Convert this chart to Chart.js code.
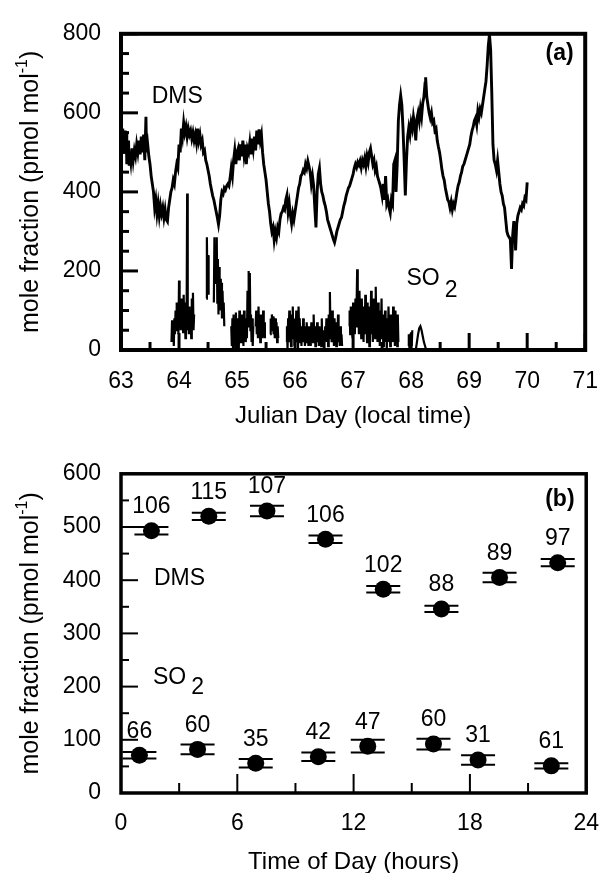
<!DOCTYPE html>
<html>
<head>
<meta charset="utf-8">
<script src="https://cdn.jsdelivr.net/npm/chart.js@4.4.0/dist/chart.umd.min.js"></script>
<style>
html, body { margin: 0; padding: 0; background: #fff; overflow: hidden; }
#wrapA { position: absolute; left: 0; top: 0; width: 616px; height: 440px; }
#wrapB { position: absolute; left: 0; top: 440px; width: 616px; height: 440px; }
</style>
</head>
<body>
<div id="wrapA"><canvas id="chartA" width="616" height="440"></canvas></div>
<div id="wrapB"><canvas id="chartB" width="616" height="440"></canvas></div>
<script>
const FONT = '"Liberation Sans", Arial, Helvetica, sans-serif';

// panel (a): time series, [julian day, pmol/mol]
const dmsSeries = [
  [63.00,480],[63.01,540],[63.02,500],[63.03,560],[63.04,520],[63.05,545],[63.06,500],[63.07,555],[63.08,530],[63.09,550],
  [63.10,470],[63.11,520],[63.12,480],[63.13,530],[63.14,470],[63.15,500],[63.17,475],[63.19,510],[63.21,480],[63.23,505],
  [63.25,490],[63.27,520],[63.29,500],[63.31,530],[63.33,495],[63.35,540],[63.37,500],[63.39,545],[63.41,480],[63.43,590],
  [63.44,500],[63.46,520],[63.48,490],[63.50,470],[63.52,440],[63.54,420],[63.56,400],[63.58,360],[63.60,380],[63.62,345],
  [63.64,370],[63.66,340],[63.68,365],[63.70,345],[63.72,360],[63.74,335],[63.76,355],[63.78,330],[63.80,325],[63.82,360],
  [63.84,380],[63.86,400],[63.88,410],[63.90,430],[63.92,420],[63.94,450],[63.96,470],[63.98,460],[64.00,520],[64.02,500],
  [64.04,560],[64.06,540],[64.08,575],[64.10,550],[64.12,565],[64.14,540],[64.16,560],[64.18,545],[64.20,555],[64.22,535],
  [64.24,550],[64.26,530],[64.28,545],[64.30,525],[64.32,560],[64.34,530],[64.36,545],[64.38,520],[64.40,530],[64.42,500],
  [64.44,505],[64.46,480],[64.48,470],[64.50,455],[64.52,440],[64.54,420],[64.56,405],[64.58,390],[64.60,380],[64.62,365],
  [64.64,350],[64.66,335],[64.68,318],[64.70,340],[64.72,380],[64.74,400],[64.76,395],[64.78,410],[64.80,405],[64.82,415],
  [64.84,420],[64.86,415],[64.88,435],[64.90,460],[64.92,440],[64.94,480],[64.96,505],[64.98,470],[65.00,500],[65.02,510],
  [65.04,480],[65.06,520],[65.08,490],[65.10,530],[65.12,495],[65.14,520],[65.16,470],[65.18,510],[65.20,500],[65.22,525],
  [65.24,495],[65.26,535],[65.28,510],[65.30,540],[65.32,505],[65.34,555],[65.36,520],[65.38,558],[65.40,530],[65.42,545],
  [65.44,500],[65.46,470],[65.48,450],[65.50,430],[65.52,400],[65.54,370],[65.56,350],[65.58,320],[65.60,300],[65.62,310],
  [65.64,278],[65.66,300],[65.68,285],[65.70,310],[65.72,300],[65.74,330],[65.76,345],[65.78,350],[65.80,360],[65.82,355],
  [65.84,380],[65.86,392],[65.88,350],[65.90,370],[65.92,340],[65.94,320],[65.96,345],[65.98,330],[66.00,350],[66.02,370],
  [66.04,390],[66.06,410],[66.08,420],[66.10,440],[66.12,445],[66.14,455],[66.16,450],[66.18,470],[66.20,460],[66.22,478],
  [66.24,465],[66.26,450],[66.28,420],[66.30,440],[66.32,416],[66.34,360],[66.36,310],[66.38,400],[66.40,445],[66.42,460],
  [66.44,420],[66.46,400],[66.48,390],[66.50,375],[66.52,365],[66.54,350],[66.56,330],[66.58,320],[66.60,310],[66.62,300],
  [66.64,290],[66.66,280],[66.68,272],[66.70,285],[66.72,300],[66.74,310],[66.76,320],[66.78,330],[66.80,335],[66.82,350],
  [66.84,365],[66.86,375],[66.88,390],[66.90,400],[66.92,410],[66.94,415],[66.96,425],[66.98,435],[67.00,445],[67.02,460],
  [67.04,470],[67.06,462],[67.08,475],[67.10,468],[67.12,478],[67.14,462],[67.16,480],[67.18,470],[67.20,485],[67.22,465],
  [67.24,490],[67.26,475],[67.28,500],[67.30,510],[67.32,490],[67.34,470],[67.36,480],[67.38,455],[67.40,465],[67.42,440],
  [67.44,430],[67.46,420],[67.48,408],[67.50,390],[67.52,420],[67.54,380],[67.56,440],[67.58,370],[67.60,380],[67.62,360],
  [67.64,347],[67.66,380],[67.68,370],[67.70,470],[67.72,480],[67.74,400],[67.76,470],[67.78,580],[67.80,620],[67.82,644],
  [67.84,620],[67.86,560],[67.88,480],[67.90,391],[67.92,480],[67.94,540],[67.96,563],[67.98,545],[68.00,575],[68.02,560],
  [68.04,590],[68.06,570],[68.08,530],[68.10,585],[68.12,600],[68.14,580],[68.16,610],[68.18,590],[68.20,625],[68.22,640],
  [68.24,675],[68.25,690],[68.27,640],[68.29,620],[68.31,600],[68.33,587],[68.35,600],[68.37,575],[68.39,580],[68.41,555],
  [68.43,560],[68.45,530],[68.47,514],[68.49,500],[68.51,480],[68.53,457],[68.55,440],[68.57,430],[68.59,410],[68.61,395],
  [68.63,380],[68.65,375],[68.67,360],[68.69,375],[68.71,355],[68.73,370],[68.75,362],[68.77,380],[68.79,400],[68.81,416],
  [68.83,425],[68.85,440],[68.87,450],[68.89,465],[68.91,470],[68.93,480],[68.95,490],[68.97,500],[68.99,510],[69.01,520],
  [69.03,540],[69.05,555],[69.07,565],[69.09,580],[69.11,587],[69.13,570],[69.15,605],[69.17,590],[69.19,610],[69.21,600],
  [69.23,620],[69.25,640],[69.27,660],[69.29,680],[69.31,720],[69.33,770],[69.35,798],[69.37,760],[69.39,650],[69.41,520],
  [69.43,480],[69.45,470],[69.47,455],[69.49,480],[69.51,450],[69.53,420],[69.55,400],[69.57,390],[69.59,370],[69.61,360],
  [69.63,330],[69.65,300],[69.67,290],[69.69,285],[69.71,280],[69.73,205],[69.75,290],[69.77,326],[69.79,300],[69.80,252],
  [69.82,320],[69.84,340],[69.86,350],[69.88,360],[69.90,355],[69.92,370],[69.94,365],[69.96,385],[69.98,380],[70.00,424]
];

const so2Series = [
  [63.87,20],[63.88,75],[63.89,30],[63.90,60],[63.91,10],[63.92,80],[63.93,40],[63.94,100],[63.95,50],[63.96,120],
  [63.97,60],[63.98,90],[63.99,40],[64.00,176],[64.01,70],[64.02,110],[64.03,50],[64.04,130],[64.05,60],[64.06,95],
  [64.07,45],[64.08,140],[64.09,70],[64.10,100],[64.11,30],[64.12,120],[64.13,60],[64.14,396],[64.15,50],[64.16,90],
  [64.17,40],[64.18,110],[64.19,60],[64.20,100],[64.21,30],[64.22,130],[64.23,70],[64.24,145],[64.25,50],[64.26,90],
  [64.27,null],
  [64.47,130],[64.48,285],[64.49,150],[64.50,240],[64.51,140],[64.53,null],
  [64.60,120],[64.61,285],[64.62,170],[64.63,260],[64.64,200],[64.65,285],[64.66,120],[64.67,230],[64.68,90],[64.69,210],
  [64.70,140],[64.71,180],[64.72,100],[64.73,170],[64.74,80],[64.75,150],[64.76,90],[64.77,120],[64.78,60],[64.79,null],
  [64.90,60],[64.91,10],[64.92,80],[64.93,0],[64.94,90],[64.95,30],[64.96,70],[64.97,5],[64.98,95],[64.99,40],
  [65.00,80],[65.01,10],[65.02,60],[65.03,0],[65.04,100],[65.05,30],[65.06,70],[65.07,20],[65.08,90],[65.09,40],
  [65.10,60],[65.11,10],[65.12,100],[65.13,50],[65.14,80],[65.15,20],[65.16,70],[65.17,30],[65.18,150],[65.19,60],
  [65.20,200],[65.21,70],[65.22,195],[65.23,50],[65.24,90],[65.25,20],[65.26,80],[65.27,10],[65.28,60],[65.29,null],
  [65.32,60],[65.33,100],[65.34,40],[65.35,80],[65.36,30],[65.37,110],[65.38,50],[65.39,70],[65.40,20],[65.41,90],
  [65.42,40],[65.43,60],[65.44,30],[65.45,100],[65.46,40],[65.47,70],[65.48,30],[65.49,null],
  [65.57,40],[65.58,80],[65.59,50],[65.60,90],[65.61,60],[65.62,85],[65.63,40],[65.64,75],[65.65,30],[65.66,80],
  [65.67,50],[65.68,70],[65.69,20],[65.70,60],[65.71,30],[65.72,null],
  [65.85,20],[65.86,60],[65.87,0],[65.88,80],[65.89,30],[65.90,100],[65.91,20],[65.92,70],[65.93,10],[65.94,90],
  [65.95,40],[65.96,110],[65.97,30],[65.98,80],[65.99,10],[66.00,60],[66.01,20],[66.02,100],[66.03,40],[66.04,70],
  [66.05,0],[66.06,110],[66.07,50],[66.08,80],[66.09,20],[66.10,60],[66.11,10],[66.12,50],[66.13,30],[66.14,80],
  [66.15,20],[66.16,60],[66.17,10],[66.18,40],[66.19,20],[66.20,70],[66.21,30],[66.22,50],[66.23,10],[66.24,60],
  [66.25,20],[66.26,40],[66.27,10],[66.28,70],[66.29,30],[66.30,50],[66.31,20],[66.32,90],[66.33,30],[66.34,60],
  [66.35,10],[66.36,50],[66.37,20],[66.38,70],[66.39,30],[66.40,55],[66.41,10],[66.42,60],[66.43,25],[66.44,45],
  [66.45,10],[66.46,80],[66.47,20],[66.48,50],[66.49,10],[66.50,40],[66.51,20],[66.52,60],[66.53,30],[66.54,80],
  [66.55,20],[66.56,60],[66.57,10],[66.58,90],[66.59,30],[66.60,147],[66.61,40],[66.62,70],[66.63,20],[66.64,100],
  [66.65,30],[66.66,60],[66.67,10],[66.68,80],[66.69,30],[66.70,50],[66.71,10],[66.72,70],[66.73,20],[66.74,90],
  [66.75,30],[66.76,50],[66.77,10],[66.78,60],[66.79,20],[66.80,40],[66.81,10],[66.82,null],
  [66.93,60],[66.94,100],[66.95,40],[66.96,110],[66.97,60],[66.98,90],[66.99,30],[67.00,120],[67.01,50],[67.02,100],
  [67.03,40],[67.04,130],[67.05,60],[67.06,110],[67.07,204],[67.08,70],[67.09,120],[67.10,40],[67.11,150],[67.12,60],
  [67.13,100],[67.14,30],[67.15,130],[67.16,50],[67.17,90],[67.18,20],[67.19,110],[67.20,40],[67.21,140],[67.22,60],
  [67.23,100],[67.24,20],[67.25,120],[67.26,50],[67.27,80],[67.28,10],[67.29,110],[67.30,40],[67.31,150],[67.32,60],
  [67.33,90],[67.34,20],[67.35,130],[67.36,50],[67.37,100],[67.38,30],[67.39,160],[67.40,60],[67.41,90],[67.42,20],
  [67.43,120],[67.44,50],[67.45,80],[67.46,10],[67.47,100],[67.48,40],[67.49,130],[67.50,30],[67.51,90],[67.52,10],
  [67.53,70],[67.54,30],[67.55,100],[67.56,20],[67.57,80],[67.58,0],[67.59,60],[67.60,20],[67.61,110],[67.62,30],
  [67.63,70],[67.64,10],[67.65,90],[67.66,30],[67.67,60],[67.68,20],[67.69,110],[67.70,40],[67.71,80],[67.72,10],
  [67.73,100],[67.74,30],[67.75,60],[67.76,10],[67.77,90],[67.78,20],[67.79,null],
  [67.95,10],[67.96,40],[67.97,5],[67.98,30],[67.99,0],[68.00,45],[68.01,10],[68.02,50],[68.03,null],
  [68.08,0],[68.10,20],[68.12,40],[68.14,55],[68.16,60],[68.18,50],[68.20,35],[68.22,20],[68.24,10],[68.26,0]
];

// panel (b): diurnal means, error, number of samples
const hourDms = [1.57, 4.53, 7.53, 10.55, 13.53, 16.53, 19.53, 22.53];
const dmsMean = [493, 520, 530, 477, 383, 346, 405, 433];
const dmsErr  = [7, 7, 10, 7, 6, 6, 9, 7];
const dmsN    = [106, 115, 107, 106, 102, 88, 89, 97];

const hourSo2 = [0.95, 3.95, 6.95, 10.18, 12.73, 16.12, 18.42, 22.2];
const so2Mean = [71, 82, 56, 68, 88, 92, 62, 51];
const so2Err  = [6, 9, 8, 8, 12, 10, 9, 5];
const so2N    = [66, 60, 35, 42, 47, 60, 31, 61];

function toXY(series) {
  return series.map(p => ({ x: p[0], y: p[1] }));
}

// frame + inward ticks (left and bottom)
function frameTicks(o) {
  return {
    id: 'frameTicks',
    afterDraw(chart) {
      const { ctx, chartArea: a } = chart;
      const x = chart.scales.x, y = chart.scales.y;
      ctx.save();
      ctx.strokeStyle = '#000';
      ctx.lineWidth = o.tickWidth;
      for (let v = x.min; v <= x.max + 1e-9; v += o.xStep) {
        const r = v / o.xMajor;
        const len = Math.abs(r - Math.round(r)) < 1e-6 ? o.xMajorLen : o.xMinorLen;
        const px = x.getPixelForValue(v);
        ctx.beginPath(); ctx.moveTo(px, a.bottom); ctx.lineTo(px, a.bottom - len); ctx.stroke();
      }
      for (let v = y.min; v <= y.max + 1e-9; v += o.yStep) {
        const r = v / o.yMajor;
        const len = Math.abs(r - Math.round(r)) < 1e-6 ? o.yMajorLen : o.yMinorLen;
        const py = y.getPixelForValue(v);
        ctx.beginPath(); ctx.moveTo(a.left, py); ctx.lineTo(a.left + len, py); ctx.stroke();
      }
      ctx.lineWidth = o.frameWidth;
      ctx.strokeRect(a.left, a.top, a.right - a.left, a.bottom - a.top);
      ctx.restore();
    }
  };
}

// rotated y title with superscript, plus text notes
function notes(o) {
  return {
    id: 'notes',
    afterDraw(chart) {
      const { ctx, chartArea: a } = chart;
      const x = chart.scales.x, y = chart.scales.y;
      ctx.save();
      ctx.fillStyle = '#000';
      ctx.textBaseline = 'middle';

      // y title
      const main = 'mole fraction (pmol mol', sup = '-1', tail = ')';
      ctx.translate(31, (a.top + a.bottom) / 2);
      ctx.rotate(-Math.PI / 2);
      ctx.textAlign = 'left';
      ctx.font = '25px ' + FONT;
      const w1 = ctx.measureText(main).width, w3 = ctx.measureText(tail).width;
      ctx.font = '16px ' + FONT;
      const w2 = ctx.measureText(sup).width;
      const x0 = -(w1 + w2 + w3) / 2;
      ctx.font = '25px ' + FONT;
      ctx.fillText(main, x0, 0);
      ctx.fillText(tail, x0 + w1 + w2, 0);
      ctx.font = '16px ' + FONT;
      ctx.fillText(sup, x0 + w1, -8);
      ctx.setTransform(1, 0, 0, 1, 0, 0);

      ctx.font = '23px ' + FONT;
      ctx.textAlign = 'left';
      ctx.fillText('DMS', x.getPixelForValue(o.dms[0]), y.getPixelForValue(o.dms[1]));
      const sx = x.getPixelForValue(o.so2[0]), sy = y.getPixelForValue(o.so2[1]);
      ctx.fillText('SO', sx, sy);
      ctx.fillText('2', sx + ctx.measureText('SO').width + 5, sy + o.subDrop);

      ctx.font = 'bold 23px ' + FONT;
      ctx.textAlign = 'right';
      ctx.fillText(o.tag, x.getPixelForValue(o.tagAt[0]), y.getPixelForValue(o.tagAt[1]));
      ctx.restore();
    }
  };
}

// horizontal-capped error bars + sample counts
const errorBars = {
  id: 'errorBars',
  beforeDatasetsDraw(chart) {
    const { ctx } = chart;
    const x = chart.scales.x, y = chart.scales.y;
    ctx.save();
    ctx.strokeStyle = '#000';
    ctx.lineWidth = 2;
    chart.data.datasets.forEach(ds => {
      ds.data.forEach((p, i) => {
        const px = x.getPixelForValue(p.x);
        const hi = y.getPixelForValue(p.y + ds.err[i]);
        const lo = y.getPixelForValue(p.y - ds.err[i]);
        ctx.beginPath();
        ctx.moveTo(px - 17, hi); ctx.lineTo(px + 17, hi);
        ctx.moveTo(px - 17, lo); ctx.lineTo(px + 17, lo);
        ctx.moveTo(px, hi); ctx.lineTo(px, lo);
        ctx.stroke();
      });
    });
    ctx.restore();
  },
  afterDatasetsDraw(chart) {
    const { ctx } = chart;
    const x = chart.scales.x, y = chart.scales.y;
    ctx.save();
    ctx.fillStyle = '#000';
    ctx.font = '23px ' + FONT;
    ctx.textAlign = 'center';
    ctx.textBaseline = 'middle';
    chart.data.datasets.forEach(ds => {
      ds.data.forEach((p, i) => {
        ctx.fillText(String(ds.counts[i]), x.getPixelForValue(p.x), y.getPixelForValue(p.y) - 24);
      });
    });
    ctx.restore();
  }
};

const tickFont = { family: FONT, size: 23 };
const titleFont = { family: FONT, size: 24 };

// ---- panel (a)
new Chart(document.getElementById('chartA'), {
  type: 'line',
  data: {
    datasets: [
      { data: toXY(dmsSeries), borderColor: '#000', borderWidth: 2.9, pointRadius: 0, tension: 0 },
      { data: toXY(so2Series), borderColor: '#000', borderWidth: 2.2, pointRadius: 0, tension: 0, spanGaps: false }
    ]
  },
  options: {
    responsive: false, animation: false, devicePixelRatio: 1,
    layout: { padding: { top: 23, right: 15, left: 0, bottom: 0 } },
    plugins: { legend: { display: false }, tooltip: { enabled: false } },
    scales: {
      x: {
        type: 'linear', min: 63, max: 71,
        afterFit: s => { s.height = 90; },
        grid: { display: false, drawTicks: false }, border: { display: false },
        ticks: { stepSize: 1, padding: 18, color: '#000', font: tickFont, maxRotation: 0, autoSkip: false },
        title: { display: true, text: 'Julian Day (local time)', color: '#000', font: titleFont, padding: { top: 0, bottom: 9 } }
      },
      y: {
        min: 0, max: 800,
        afterFit: s => { s.width = 121; },
        grid: { display: false, drawTicks: false }, border: { display: false },
        ticks: { stepSize: 200, padding: 20, color: '#000', font: tickFont }
      }
    }
  },
  plugins: [
    frameTicks({ xStep: 0.5, xMajor: 1, yStep: 50, yMajor: 200, xMajorLen: 17, xMinorLen: 8, yMajorLen: 17, yMinorLen: 8, tickWidth: 3, frameWidth: 4 }),
    notes({ dms: [63.53, 641], so2: [67.92, 180], subDrop: 12, tag: '(a)', tagAt: [70.8, 751] })
  ]
});

// ---- panel (b)
new Chart(document.getElementById('chartB'), {
  type: 'scatter',
  data: {
    datasets: [
      { data: hourDms.map((h, i) => ({ x: h, y: dmsMean[i] })), err: dmsErr, counts: dmsN,
        pointRadius: 8.5, backgroundColor: '#000', borderWidth: 0 },
      { data: hourSo2.map((h, i) => ({ x: h, y: so2Mean[i] })), err: so2Err, counts: so2N,
        pointRadius: 8.5, backgroundColor: '#000', borderWidth: 0 }
    ]
  },
  options: {
    responsive: false, animation: false, devicePixelRatio: 1,
    layout: { padding: { top: 25, right: 15, left: 0, bottom: 0 } },
    plugins: { legend: { display: false }, tooltip: { enabled: false } },
    scales: {
      x: {
        type: 'linear', min: 0, max: 24,
        afterFit: s => { s.height = 87; },
        grid: { display: false, drawTicks: false }, border: { display: false },
        ticks: { stepSize: 6, padding: 17, color: '#000', font: tickFont, maxRotation: 0, autoSkip: false },
        title: { display: true, text: 'Time of Day (hours)', color: '#000', font: titleFont, padding: { top: 0, bottom: 3 } }
      },
      y: {
        min: 0, max: 600,
        afterFit: s => { s.width = 121; },
        grid: { display: false, drawTicks: false }, border: { display: false },
        ticks: { stepSize: 100, padding: 20, color: '#000', font: tickFont }
      }
    }
  },
  plugins: [
    errorBars,
    frameTicks({ xStep: 3, xMajor: 6, yStep: 50, yMajor: 100, xMajorLen: 19, xMinorLen: 10, yMajorLen: 17, yMinorLen: 8, tickWidth: 2, frameWidth: 3.5 }),
    notes({ dms: [1.7, 403], so2: [1.65, 216], subDrop: 10, tag: '(b)', tagAt: [23.4, 551] })
  ]
});
</script>
</body>
</html>
